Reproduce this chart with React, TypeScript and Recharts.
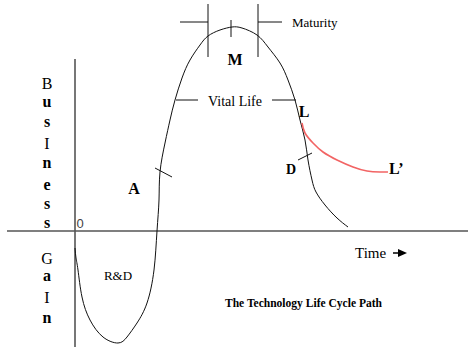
import { LineChart, Line, XAxis, YAxis, ReferenceLine, ReferenceDot } from "recharts";

// units: time t (0 at the gain axis), business gain g (0 at the time axis)
const lifeCycle = [
  { t: 0, g: -17 }, { t: 1, g: -27 }, { t: 3, g: -39 }, { t: 7, g: -66 },
  { t: 15, g: -89 }, { t: 28, g: -106 }, { t: 43, g: -112 }, { t: 52, g: -106 },
  { t: 62, g: -92 }, { t: 72, g: -72 }, { t: 79, g: -39 }, { t: 82, g: 0 },
  { t: 84, g: 31 }, { t: 85, g: 59 }, { t: 90, g: 88 }, { t: 95, g: 111 },
  { t: 100, g: 131 }, { t: 107, g: 153 }, { t: 115, g: 171 }, { t: 125, g: 186 },
  { t: 133, g: 195 }, { t: 145, g: 201 }, { t: 157, g: 204 }, { t: 167, g: 203 },
  { t: 182, g: 196 }, { t: 193, g: 184 }, { t: 205, g: 168 }, { t: 213, g: 151 },
  { t: 220, g: 131 }, { t: 225, g: 111 }, { t: 230, g: 91 }, { t: 233, g: 71 },
  { t: 237, g: 51 }, { t: 241, g: 39 }, { t: 250, g: 26 }, { t: 262, g: 13 },
  { t: 273, g: 4 },
];

const extendedLife = [
  { t: 227, g: 108 }, { t: 230, g: 98 }, { t: 238, g: 88 }, { t: 248, g: 79 },
  { t: 262, g: 71 }, { t: 278, g: 64 }, { t: 292, g: 60 }, { t: 305, g: 59 },
  { t: 313, g: 59 },
];

const axisLines = [
  [{ x: -68, y: 0 }, { x: 393, y: 0 }],
  [{ x: 0, y: 172 }, { x: 0, y: -116 }],
];

const markerLines = [
  [{ x: 80, y: 63 }, { x: 97, y: 54 }],     // A
  [{ x: 101, y: 131 }, { x: 123, y: 131 }], // vital life left
  [{ x: 197, y: 131 }, { x: 221, y: 131 }], // vital life right
  [{ x: 105, y: 209 }, { x: 133, y: 209 }], // maturity left
  [{ x: 133, y: 227 }, { x: 133, y: 174 }],
  [{ x: 156, y: 211 }, { x: 156, y: 194 }],
  [{ x: 183, y: 227 }, { x: 183, y: 174 }],
  [{ x: 183, y: 209 }, { x: 207, y: 209 }], // maturity right
  [{ x: 223, y: 71 }, { x: 237, y: 78 }],   // D
];

const sideLetters = ["B", "u", "s", "I", "n", "e", "s", "s", "G", "a", "I", "n"];
const sideLetterGain = [142, 124, 104, 82, 63, 41, 22, 3, -33, -50, -72, -92];

const labels = [
  { text: "Maturity", t: 217, g: 204, size: 13, bold: false, anchor: "start" },
  { text: "M", t: 160, g: 166, size: 16, bold: true, anchor: "middle" },
  { text: "Vital Life", t: 160, g: 125, size: 14, bold: false, anchor: "middle" },
  { text: "L", t: 229, g: 114, size: 16, bold: true, anchor: "middle" },
  { text: "D", t: 216, g: 57, size: 14, bold: true, anchor: "middle" },
  { text: "L\u2019", t: 314, g: 57, size: 16, bold: true, anchor: "start" },
  { text: "A", t: 59, g: 37, size: 16, bold: true, anchor: "middle" },
  { text: "R&D", t: 43, g: -49, size: 13, bold: false, anchor: "middle" },
  { text: "Time", t: 280, g: -27, size: 15, bold: false, anchor: "start" },
];

const SERIF = "'Liberation Serif', 'Times New Roman', serif";

function textShape(text: string, size: number, bold: boolean, anchor: string, extra: any = {}) {
  return (p: any) => (
    <text
      x={p.cx}
      y={p.cy}
      fontFamily={SERIF}
      fontSize={size}
      fontWeight={bold ? "bold" : "normal"}
      textAnchor={anchor}
      fill="#000"
      {...extra}
    >
      {text}
    </text>
  );
}

// small filled arrow after "Time"
const arrowShape = (p: any) => (
  <g>
    <line x1={p.cx} y1={p.cy} x2={p.cx + 7} y2={p.cy} stroke="#000" strokeWidth={1.5} />
    <polygon points={`${p.cx + 5},${p.cy - 4} ${p.cx + 14},${p.cy} ${p.cx + 5},${p.cy + 4}`} fill="#000" />
  </g>
);

export default function App() {
  return (
    <div style={{ position: "absolute", left: 0, top: 0, background: "#fff" }}>
      <LineChart width={472} height={347} margin={{ top: 0, right: 0, bottom: 0, left: 0 }}>
        <XAxis dataKey="t" type="number" domain={[-75, 397]} allowDataOverflow hide />
        <YAxis dataKey="g" type="number" domain={[-116, 231]} allowDataOverflow hide />
        {axisLines.map((seg, i) => (
          <ReferenceLine key={`ax-${i}`} segment={seg} stroke="#555" strokeWidth={1.6} />
        ))}
        {markerLines.map((seg, i) => (
          <ReferenceLine key={`mk-${i}`} segment={seg} stroke="#111" strokeWidth={1} />
        ))}
        <Line
          data={lifeCycle}
          dataKey="g"
          type="natural"
          stroke="#111"
          strokeWidth={1}
          dot={false}
          activeDot={false}
          isAnimationActive={false}
        />
        <Line
          data={extendedLife}
          dataKey="g"
          type="natural"
          stroke="#f26464"
          strokeWidth={1.6}
          dot={false}
          activeDot={false}
          isAnimationActive={false}
        />
        {sideLetters.map((ch, i) => (
          <ReferenceDot
            key={`sl-${i}`}
            x={-28}
            y={sideLetterGain[i]}
            shape={textShape(ch, 16, ch === ch.toLowerCase(), "middle")}
          />
        ))}
        {labels.map((l, i) => (
          <ReferenceDot key={`lb-${i}`} x={l.t} y={l.g} shape={textShape(l.text, l.size, l.bold, l.anchor)} />
        ))}
        <ReferenceDot
          x={5}
          y={3}
          shape={textShape("0", 13, false, "middle", {
            fontFamily: "'Liberation Sans Narrow', 'Liberation Sans', sans-serif",
            fill: "#444",
          })}
        />
        <ReferenceDot x={318} y={-22} shape={arrowShape} />
        <ReferenceDot
          x={228.5}
          y={-76}
          shape={textShape("The Technology Life Cycle Path", 12, true, "middle", {
            textLength: 157,
            lengthAdjust: "spacingAndGlyphs",
          })}
        />
      </LineChart>
    </div>
  );
}
